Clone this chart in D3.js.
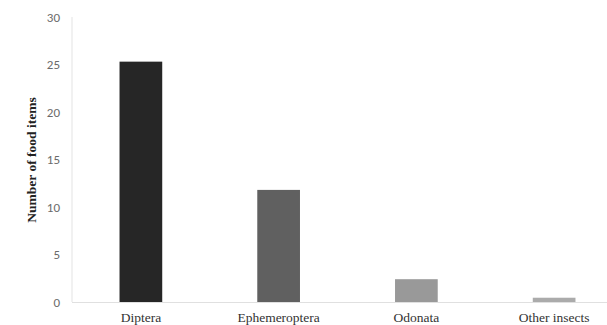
<!DOCTYPE html>
<html><head><meta charset="utf-8">
<script src="https://cdn.jsdelivr.net/npm/d3@7"></script>
<style>body{margin:0;background:#fff}</style>
</head><body>
<svg id="c" width="607" height="325"></svg>
<script>
const categories = ["Diptera","Ephemeroptera","Odonata","Other insects"];
const values = [25.3, 11.8, 2.4, 0.45];
const colors = ["#262626","#606060","#999999","#ababab"];
const yTicks = [0,5,10,15,20,25,30];
const yTitle = "Number of food items";

const svg = d3.select("#c");
const x = d3.scaleBand().domain(categories).range([72, 623]).paddingInner(0.69).paddingOuter(0.345);
const y = d3.scaleLinear().domain([0,30]).range([302, 17]);

// y axis line
svg.append("line").attr("x1",72).attr("x2",72).attr("y1",y(30)).attr("y2",y(0))
  .attr("stroke","#e3e3e3").attr("stroke-width",1);

// bars
svg.selectAll("rect.bar").data(categories).enter().append("rect")
  .attr("x", d=>x(d)).attr("width", x.bandwidth())
  .attr("y", (d,i)=>y(values[i])).attr("height",(d,i)=>y(0)-y(values[i]))
  .attr("fill",(d,i)=>colors[i]);

// x axis line
svg.append("line").attr("x1",72).attr("x2",607).attr("y1",y(0)+0.5).attr("y2",y(0)+0.5)
  .attr("stroke","#e0e0e0").attr("stroke-width",1);

// y ticks labels
const yAxis = d3.axisLeft(y).tickValues(yTicks).tickSize(0).tickPadding(12);
const gy = svg.append("g").attr("transform","translate(72,0)").call(yAxis);
gy.select(".domain").remove();
gy.selectAll("text").attr("font-family","Carlito, 'Liberation Sans', sans-serif")
  .attr("font-size",13).attr("fill","#6a6a6a");

// x labels
const xAxis = d3.axisBottom(x).tickSize(0).tickPadding(10);
const gx = svg.append("g").attr("transform",`translate(0,${y(0)})`).call(xAxis);
gx.select(".domain").remove();
gx.selectAll("text").attr("font-family","'Liberation Serif', 'DejaVu Serif', serif")
  .attr("font-size",13.5).attr("fill","#333");

// y title
svg.append("text").attr("transform","translate(36,160) rotate(-90)")
  .attr("text-anchor","middle").attr("font-family","'Liberation Serif', serif")
  .attr("font-weight","bold").attr("font-size",13.5).attr("fill","#222").text(yTitle);
</script>
</body></html>
